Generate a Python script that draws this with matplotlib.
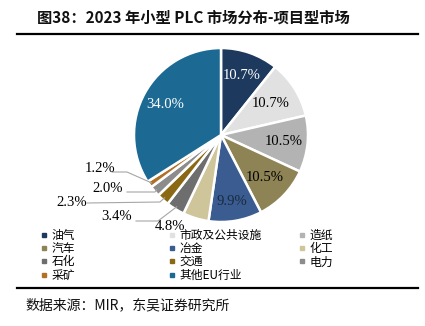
import matplotlib
matplotlib.use("Agg")
import matplotlib.pyplot as plt
import numpy as np
from matplotlib.lines import Line2D

categories = ["油气", "市政及公共设施", "造纸", "汽车", "冶金", "化工",
              "石化", "交通", "电力", "采矿", "其他EU行业"]
values = [10.7, 10.7, 10.5, 10.5, 9.9, 4.8, 3.4, 2.3, 2.0, 1.2, 34.0]
labels = ["10.7%", "10.7%", "10.5%", "10.5%", "9.9%", "4.8%",
          "3.4%", "2.3%", "2.0%", "1.2%", "34.0%"]
colors = ["#1d3a5e", "#e1e1e1", "#b3b3b3", "#8e8354", "#3a5c91", "#cfc59b",
          "#6e6e6e", "#8b6914", "#8c8c8c", "#b07028", "#1c6a94"]
label_colors = ["white", "black", "black", "black", "#1a2a40", "black",
                "black", "black", "black", "black", "white"]

W, H = 425, 326
fig = plt.figure(figsize=(W / 100, H / 100), dpi=100)
fig.patch.set_facecolor("white")

cjk = ["Noto Sans CJK SC", "DejaVu Sans"]
serif = ["Liberation Serif", "DejaVu Serif"]

# Title
fig.text(37 / W, 1 - 18 / H, "图38：2023 年小型 PLC 市场分布-项目型市场",
         family=cjk, fontsize=11, fontweight="bold", color="#111111",
         va="center", ha="left")
fig.add_artist(Line2D([17 / W, 418 / W], [1 - 34 / H, 1 - 34 / H],
                      color="black", lw=1.6, transform=fig.transFigure))
fig.add_artist(Line2D([17 / W, 418 / W], [1 - 288 / H, 1 - 288 / H],
                      color="black", lw=1.6, transform=fig.transFigure))
fig.text(25 / W, 1 - 305 / H, "数据来源：MIR，东吴证券研究所",
         family=cjk, fontsize=10, color="#111111", va="center", ha="left")

# Pie
cx, cy, r = 221, 135, 87
ax = fig.add_axes([(cx - r) / W, 1 - (cy + r) / H, 2 * r / W, 2 * r / H])
wedges, _ = ax.pie(values, colors=colors, startangle=90, counterclock=False,
                   radius=1.0, wedgeprops=dict(edgecolor="white", linewidth=1.8))
ax.set_xlim(-1, 1)
ax.set_ylim(-1, 1)
ax.set_aspect("equal")
ax.axis("off")

# label positions for small slices (pixel positions)
outside_text = {5: (170, 226), 6: (117, 217), 7: (72, 203), 8: (108, 189), 9: (100, 168)}
outside_pts = {5: [],
               6: [(136, 221), (158, 221)],
               7: [(87, 203), (160, 202)],
               8: [(127, 192), (155, 192)],
               9: [(112, 172), (127, 172)]}
inside_dist = {0: 0.72, 1: 0.68, 2: 0.72, 3: 0.70, 4: 0.78, 10: 0.73}

def px2ax(p):
    return ((p[0] - cx) / r, (cy - p[1]) / r)

for i, w in enumerate(wedges):
    ang = np.deg2rad((w.theta1 + w.theta2) / 2)
    if i in outside_text:
        tx, ty = px2ax(outside_text[i])
        ax.text(tx, ty, labels[i], family=serif, fontsize=10.5, color="black",
                ha="center", va="center", clip_on=False)
        edge = (0.97 * np.cos(ang), 0.97 * np.sin(ang))
        pts = [px2ax(p) for p in outside_pts[i]]
        if pts:
            pts.append(edge)
            ax.plot([p[0] for p in pts], [p[1] for p in pts],
                    color="#a6a6a6", lw=0.8, clip_on=False)
    else:
        d = inside_dist[i]
        ax.text(d * np.cos(ang), d * np.sin(ang), labels[i], family=serif,
                fontsize=10.5, color=label_colors[i], ha="center", va="center")

# Legend: three columns, row-wise order
cols = [[0, 3, 6, 9], [1, 4, 7, 10], [2, 5, 8]]
col_x = [40, 168, 298]
for cx_, idxs in zip(col_x, cols):
    handles = [Line2D([0], [0], marker="s", linestyle="none", markersize=3,
                      markerfacecolor=colors[i], markeredgecolor=colors[i])
               for i in idxs]
    fig.legend(handles, [categories[i] for i in idxs],
               loc="upper left", bbox_to_anchor=(cx_ / W, 1 - 229 / H),
               frameon=False, prop=dict(family=cjk, size=8.5),
               handlelength=0.6, handletextpad=0.4, labelspacing=0.02,
               borderpad=0, borderaxespad=0)

fig.savefig("out.png", dpi=100, facecolor="white")
